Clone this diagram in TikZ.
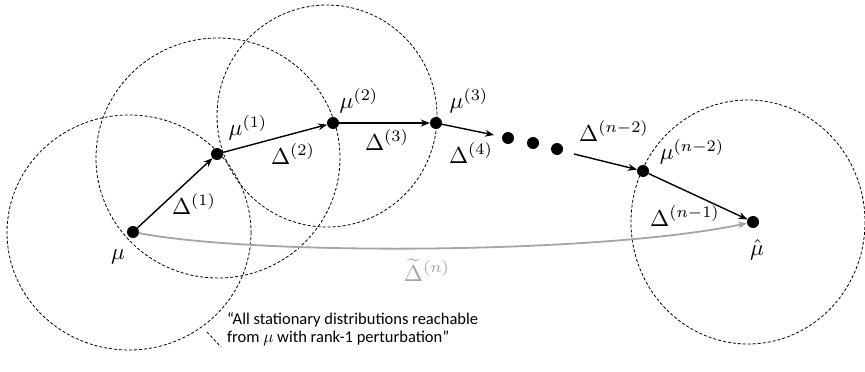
\documentclass[tikz,border=0pt]{standalone}
\usepackage{fontspec}
\setmainfont{Carlito}
\usetikzlibrary{arrows.meta}
\begin{document}
\begin{tikzpicture}[x=1pt,y=-1pt,
  reach/.style={draw=black,dash pattern=on 3pt off 2pt,line width=0.8pt},
  dot/.style={circle,fill=black,inner sep=0pt,minimum size=12pt},
  arr/.style={-{Stealth[length=9pt,width=7pt]},line width=1.4pt,black},
  garr/.style={-{Stealth[length=9pt,width=7pt]},line width=1.8pt,draw={rgb,255:red,165;green,165;blue,165}},
  lab/.style={scale=2.3,inner sep=0pt},
  note/.style={font=\fontsize{16.5}{18}\selectfont,align=left,inner sep=0pt}]
\useasboundingbox (0,0) rectangle (865,372);
% reachable sets
\draw[reach] (129,232.5) ellipse [x radius=122, y radius=117.5];
\draw[reach] (218,158) ellipse [x radius=122, y radius=120];
\draw[reach] (327,116) ellipse [x radius=110, y radius=111];
\draw[reach] (748,222) ellipse [x radius=117, y radius=122];
% points
\node[dot] (m0) at (133,232) {};
\node[dot] (m1) at (217,154) {};
\node[dot] (m2) at (333,123) {};
\node[dot] (m3) at (436,123) {};
\node[dot] (d1) at (508,138) {};
\node[dot] (d2) at (533,143) {};
\node[dot] (d3) at (557,149) {};
\node[dot] (mn2) at (643,171) {};
\node[dot] (mh) at (753,222) {};
\coordinate (e4) at (494,135);
\coordinate (sn2) at (574,154);
% arrows
\draw[garr] (m0) .. controls (260,256) and (600,254) .. (mh);
\draw[arr] (m0) -- (m1);
\draw[arr] (m1) -- (m2);
\draw[arr] (m2) -- (m3);
\draw[arr] (m3) -- (e4);
\draw[arr] (sn2) -- (mn2);
\draw[arr] (mn2) -- (mh);
% labels
\node[lab] (lm0) at (118,257) {$\mu$};
\node[lab] (lm1) at (248,128) {$\mu^{(1)}$};
\node[lab] (lm2) at (359,101) {$\mu^{(2)}$};
\node[lab] (lm3) at (469,101) {$\mu^{(3)}$};
\node[lab] (lmn2) at (692,152) {$\mu^{(n-2)}$};
\node[lab] (lmh) at (757,250) {$\hat{\mu}$};
\node[lab] (ld1) at (194,204) {$\Delta^{(1)}$};
\node[lab] (ld2) at (293,154) {$\Delta^{(2)}$};
\node[lab] (ld3) at (387,140) {$\Delta^{(3)}$};
\node[lab] (ld4) at (471,153) {$\Delta^{(4)}$};
\node[lab] (ldn2) at (614,131) {$\Delta^{(n-2)}$};
\node[lab] (ldn1) at (685,216) {$\Delta^{(n-1)}$};
\node[lab,text={rgb,255:red,165;green,165;blue,165}] (ldt) at (427,270) {$\widetilde{\Delta}^{(n)}$};
% annotation
\node[note,anchor=west] (nt) at (227,329) {“All stationary distributions reachable\\from $\mu$ with rank-1 perturbation”};
\coordinate (lead) at (207,332);
\draw[reach] (lead) -- (221,347);
\end{tikzpicture}
\end{document}
